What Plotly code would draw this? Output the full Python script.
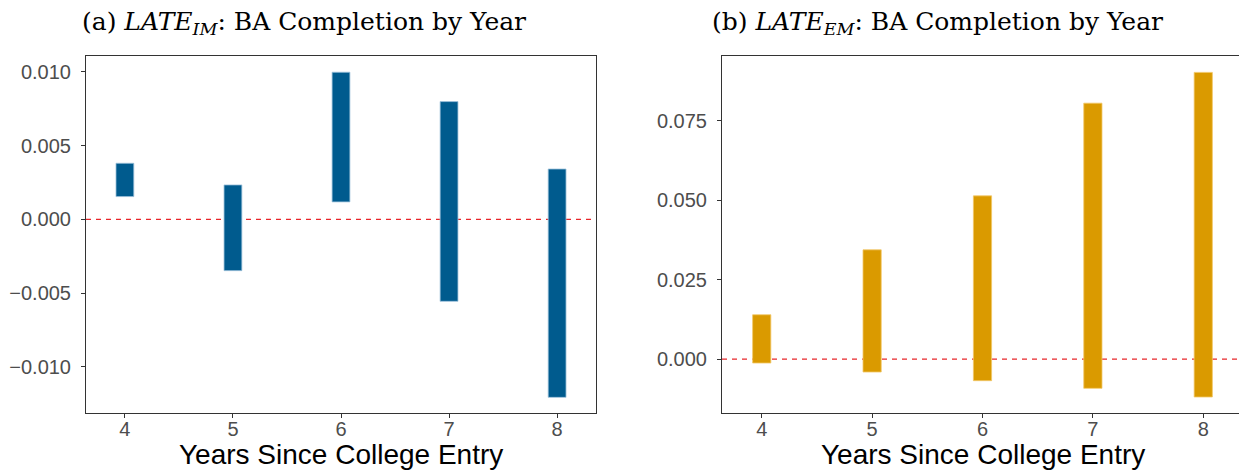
import plotly.graph_objects as go

years = [4, 5, 6, 7, 8]
im_low = [0.00154, -0.00348, 0.00118, -0.00556, -0.01207]
im_high = [0.00380, 0.00233, 0.00997, 0.00798, 0.00341]
em_low = [-0.00126, -0.00409, -0.00682, -0.00923, -0.01196]
em_high = [0.01395, 0.0344, 0.0514, 0.0806, 0.0903]

im_ticks = [-0.010, -0.005, 0.000, 0.005, 0.010]
em_ticks = [0.000, 0.025, 0.050, 0.075]

title_a = "(a) <i>LATE</i><sub><i>IM</i></sub>: BA Completion by Year"
title_b = "(b) <i>LATE</i><sub><i>EM</i></sub>: BA Completion by Year"
xlabel = "Years Since College Entry"

# page body has an 8px margin; build the figure for the remaining area
OFF = 8
W, H = 1247 - OFF, 474 - OFF


def px(x):
    return (x - OFF) / W


def py(y):
    return 1 - (y - OFF) / H


blue = "#005B8E"
orange = "#DA9A00"

fig = go.Figure()
fig.add_trace(go.Bar(
    x=years, y=[h - l for l, h in zip(im_low, im_high)], base=im_low,
    width=0.165, marker=dict(color=blue, line=dict(color="#9fc3dc", width=0.8)),
    xaxis="x", yaxis="y", showlegend=False))
fig.add_trace(go.Bar(
    x=years, y=[h - l for l, h in zip(em_low, em_high)], base=em_low,
    width=0.165, marker=dict(color=orange, line=dict(color="#f2c868", width=0.8)),
    xaxis="x2", yaxis="y2", showlegend=False))

ydom = [py(413), py(56)]
tickfont = dict(family="Liberation Sans, Arial, sans-serif", size=20, color="#4d4d4d")
axcommon = dict(showline=True, mirror=True, linecolor="#333333", linewidth=1,
                ticks="outside", ticklen=4, tickcolor="#333333", tickwidth=1,
                showgrid=False, zeroline=False, tickfont=tickfont)
titlefont = dict(family="Liberation Sans, Arial, sans-serif", size=28, color="black")

fig.update_layout(
    width=W, height=H, margin=dict(l=0, r=0, t=0, b=0, autoexpand=False),
    plot_bgcolor="white", paper_bgcolor="white",
    xaxis=dict(domain=[px(86), px(596)], range=[3.64, 8.36], tickvals=years,
               anchor="y", ticklabelstandoff=-6, **axcommon),
    yaxis=dict(domain=ydom, range=[-0.01313, 0.01107], tickvals=im_ticks,
               tickformat=".3f", anchor="x", ticklabelstandoff=6, **axcommon),
    xaxis2=dict(domain=[px(722), px(1243)], range=[3.64, 8.36], tickvals=years,
                anchor="y2", ticklabelstandoff=-6, **axcommon),
    yaxis2=dict(domain=ydom, range=[-0.0170, 0.09546], tickvals=em_ticks,
                tickformat=".3f", anchor="x2", ticklabelstandoff=6, **axcommon),
)

dash = dict(color="#e8262a", width=1.2, dash="5px,5px")
fig.add_shape(type="line", xref="x domain", yref="y", x0=0, x1=1, y0=0, y1=0, line=dash, layer="below")
fig.add_shape(type="line", xref="x2 domain", yref="y2", x0=0, x1=1, y0=0, y1=0, line=dash, layer="below")

serif = dict(family="DejaVu Serif, Liberation Serif, serif", size=25, color="black")
fig.add_annotation(text=title_a, xref="paper", yref="paper", x=px(304), y=py(23),
                   showarrow=False, font=serif, xanchor="center", yanchor="middle")
fig.add_annotation(text=title_b, xref="paper", yref="paper", x=px(938), y=py(23),
                   showarrow=False, font=serif, xanchor="center", yanchor="middle")

fig.add_annotation(text=xlabel, xref="paper", yref="paper", x=px(341), y=py(454),
                   showarrow=False, font=titlefont, xanchor="center", yanchor="middle")
fig.add_annotation(text=xlabel, xref="paper", yref="paper", x=px(983), y=py(454),
                   showarrow=False, font=titlefont, xanchor="center", yanchor="middle")

fig.write_html("out.html")
